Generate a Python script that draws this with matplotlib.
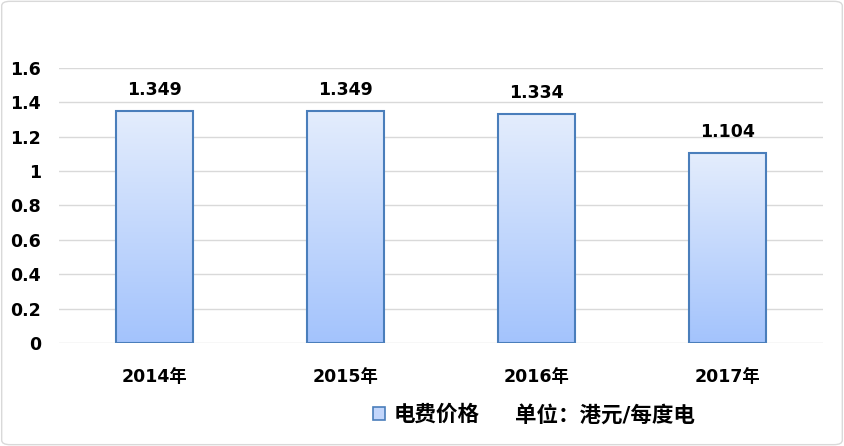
import matplotlib.pyplot as plt
import numpy as np
from matplotlib.colors import LinearSegmentedColormap
from matplotlib.patches import FancyBboxPatch, Patch

plt.rcParams['font.family'] = ['DejaVu Sans', 'Noto Sans CJK SC']

years = ['2014年', '2015年', '2016年', '2017年']
prices = [1.349, 1.349, 1.334, 1.104]
series_name = '电费价格'
unit_text = '单位：港元/每度电'

fig = plt.figure(figsize=(8.44, 4.46), dpi=100)
ax = fig.add_axes([0.070, 0.231, 0.905, 0.617])

x = np.arange(len(years))
bars = ax.bar(x, prices, width=0.4, facecolor='none', edgecolor='#4a7ebb',
              linewidth=1.5, zorder=3)

# vertical gradient inside each bar
cmap = LinearSegmentedColormap.from_list('g', ['#a3c3fc', '#e4edfd'])
grad = np.linspace(0, 1, 256).reshape(-1, 1)
for b in bars:
    x0, y0 = b.get_x(), b.get_y()
    w, h = b.get_width(), b.get_height()
    im = ax.imshow(grad, cmap=cmap, origin='lower', aspect='auto',
                   extent=[x0, x0 + w, y0, y0 + h], zorder=2)
    im.set_clip_path(b)

for xi, v in zip(x, prices):
    ax.text(xi, v + 0.07, f'{v:.3f}', ha='center', va='bottom',
            fontsize=12.5, fontweight='bold')

ax.set_xlim(-0.5, len(years) - 0.5)
ax.set_ylim(0, 1.6)
ax.set_yticks(np.arange(0, 1.61, 0.2))
ax.set_yticklabels(['0', '0.2', '0.4', '0.6', '0.8', '1', '1.2', '1.4', '1.6'])
ax.set_xticks(x)
ax.set_xticklabels(years)
for lab in ax.get_xticklabels() + ax.get_yticklabels():
    lab.set_fontweight('bold')
    lab.set_fontsize(12.5)
ax.tick_params(axis='both', length=0)
ax.tick_params(axis='x', pad=18)
ax.tick_params(axis='y', pad=13)
ax.grid(axis='y', color='#d9d9d9', linewidth=1, zorder=0)
for s in ax.spines.values():
    s.set_visible(False)

handle = Patch(facecolor='#c3d6fb', edgecolor='#4a7ebb', linewidth=1.2)
leg = fig.legend([handle], [series_name], loc='center left',
                 bbox_to_anchor=(0.442, 0.070), frameon=False,
                 handlelength=0.55, handleheight=0.55, handletextpad=0.4,
                 borderpad=0, borderaxespad=0,
                 prop={'weight': 'bold', 'size': 15.5})
fig.text(0.610, 0.070, unit_text, ha='left', va='center',
         fontsize=15.5, fontweight='bold')

border = FancyBboxPatch((0.002, 0.003), 0.996, 0.994,
                        boxstyle='round,pad=0,rounding_size=0.01',
                        transform=fig.transFigure, facecolor='none',
                        edgecolor='#d9d9d9', linewidth=1)
fig.patches.append(border)

fig.savefig('out.png', dpi=100)
